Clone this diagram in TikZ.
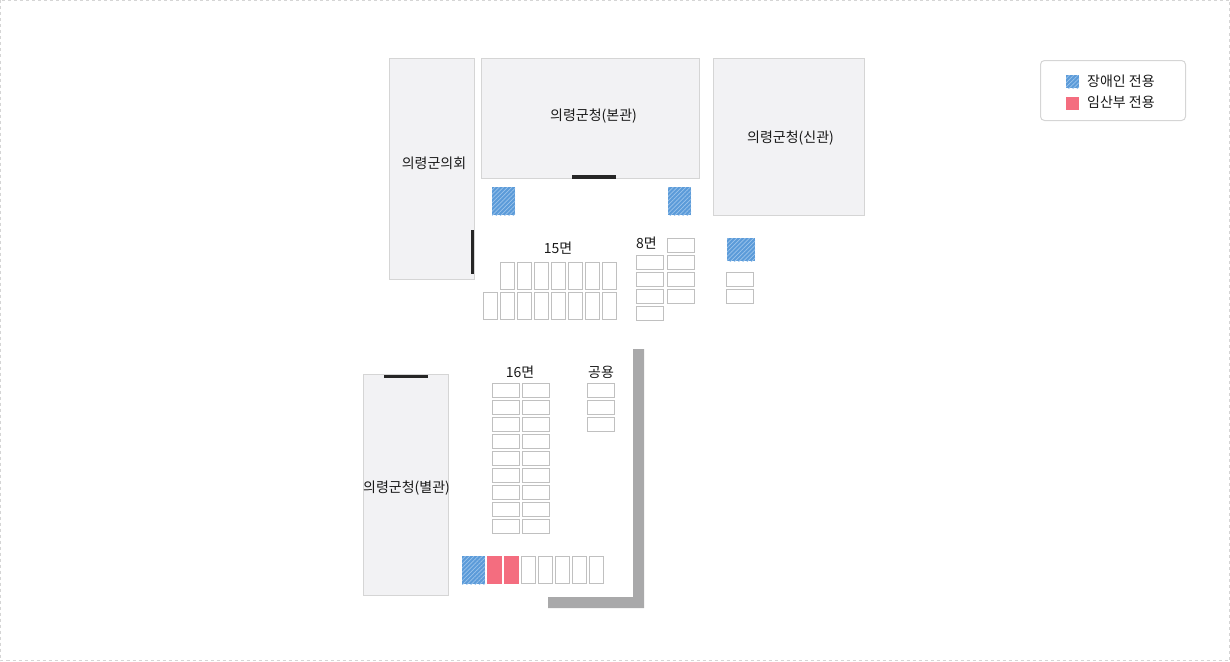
\documentclass[tikz,border=0pt]{standalone}
\usepackage{fontspec}
\setmainfont{Noto Sans CJK KR}
\usetikzlibrary{patterns.meta}

\definecolor{bldfill}{HTML}{F2F2F4}
\definecolor{bldline}{HTML}{D5D5D5}
\definecolor{slotline}{HTML}{C0C0C0}
\definecolor{hatchblue}{HTML}{5B9BD9}
\definecolor{hatchlight}{HTML}{9CC4EC}
\definecolor{mompink}{HTML}{F46D7F}
\definecolor{wallgray}{HTML}{A9A9AA}

\tikzset{
	building/.style={draw=bldline,fill=bldfill,line width=1pt},
	door/.style={fill=black!85},
	slot/.style={draw=slotline,line width=1pt},
	disabled/.style={preaction={fill=hatchblue},pattern={Lines[angle=45,distance=3pt,line width=0.7pt]},pattern color=hatchlight},
	mom/.style={fill=mompink},
	label/.style={font=\fontsize{14}{16}\selectfont,inner sep=0pt,text=black!90}
}

\begin{document}
\begin{tikzpicture}[x=1pt,y=-1pt]
	\useasboundingbox (0,0) rectangle (1230,661);
	\draw[dashed,draw=bldline,line width=1pt] (0.5,0.5) rectangle (1229.5,660.5);

	% buildings
	\draw[building] (389.5,58.5) rectangle (474.5,279.5);
	\draw[building] (481.5,58.5) rectangle (699.5,178.5);
	\draw[building] (713.5,58.5) rectangle (864.5,215.5);
	\draw[building] (363.5,374.5) rectangle (448.5,595.5);
	\node[label] (council) at (434,163.5) {의령군의회};
	\node[label] (mainhall) at (593.5,116.5) {의령군청(본관)};
	\node[label] (newhall) at (790.5,138.5) {의령군청(신관)};
	\node[label] (annex) at (406.5,488.5) {의령군청(별관)};

	% doors
	\fill[door] (571.5,175) rectangle (615.5,178.5);
	\fill[door] (471,230) rectangle (474,274);
	\fill[door] (383.5,374.5) rectangle (427.5,377.5);

	% wall
	\fill[wallgray] (633,349) -- (644,349) -- (644,608) -- (548,608) -- (548,597) -- (633,597) -- cycle;

	% reserved bays
	\fill[disabled] (492,187) rectangle (515,215);
	\fill[disabled] (668,187) rectangle (691,215);
	\fill[disabled] (727,238) rectangle (755,261);
	\fill[disabled] (462,556) rectangle (485,584);
	\fill[mom] (487,556) rectangle (502,584);
	\fill[mom] (504,556) rectangle (519,584);

	% 15 bays
	\node[label] (n15) at (558,248) {15면};
	\foreach \x in {500.5,517.5,534.5,551.5,568.5,585.5,602.5}
		\draw[slot] (\x,262.5) rectangle ++(14,27);
	\foreach \x in {483.5,500.5,517.5,534.5,551.5,568.5,585.5,602.5}
		\draw[slot] (\x,292.5) rectangle ++(14,27);

	% 8 bays
	\node[label] (n8) at (646.5,243.5) {8면};
	\foreach \y in {255.5,272.5,289.5,306.5}
		\draw[slot] (636.5,\y) rectangle ++(27,14);
	\foreach \y in {238.5,255.5,272.5,289.5}
		\draw[slot] (667.5,\y) rectangle ++(27,14);

	% next to the new hall
	\foreach \y in {272.5,289.5}
		\draw[slot] (726.5,\y) rectangle ++(27,14);

	% 16 bays
	\node[label] (n16) at (520,372) {16면};
	\foreach \y in {383.5,400.5,417.5,434.5,451.5,468.5,485.5,502.5,519.5}{
		\draw[slot] (492.5,\y) rectangle ++(27,14);
		\draw[slot] (522.5,\y) rectangle ++(27,14);
	}

	% public bays
	\node[label] (public) at (601,372) {공용};
	\foreach \y in {383.5,400.5,417.5}
		\draw[slot] (587.5,\y) rectangle ++(27,14);

	% bottom row
	\foreach \x in {521.5,538.5,555.5,572.5,589.5}
		\draw[slot] (\x,556.5) rectangle ++(14,27);

	% legend
	\draw[draw=bldline,line width=1pt,rounded corners=4pt] (1040.5,60.5) rectangle (1185.5,120.5);
	\fill[disabled] (1066,75) rectangle (1079,88);
	\fill[mom] (1066,97) rectangle (1079,110);
	\node[label,anchor=west] (legdis) at (1087,81.5) {장애인 전용};
	\node[label,anchor=west] (legmom) at (1087,102.5) {임산부 전용};
\end{tikzpicture}
\end{document}
